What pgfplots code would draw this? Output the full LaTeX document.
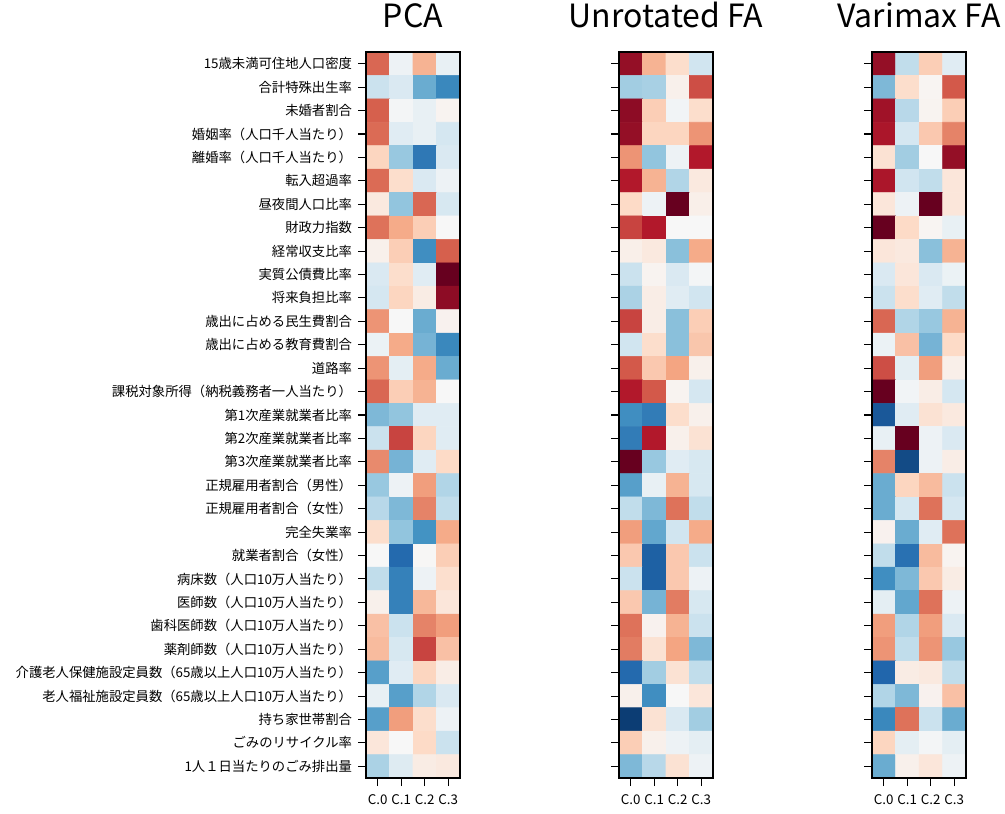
\documentclass[border=0pt]{standalone}
\usepackage{fontspec}
\setmainfont{Noto Sans CJK JP}
\usepackage{pgfplots}
\pgfplotsset{compat=1.18}
\pgfplotsset{
  colormap={rdbur}{rgb255=(5,48,97) rgb255=(33,102,172) rgb255=(67,147,195) rgb255=(146,197,222) rgb255=(209,229,240) rgb255=(247,247,247) rgb255=(253,219,199) rgb255=(244,165,130) rgb255=(214,96,77) rgb255=(178,24,43) rgb255=(103,0,31)},
  heat/.style={
    scale only axis, width=70.5pt, height=544.5pt,
    anchor=south west,
    xmin=-0.5, xmax=3.5, ymin=-0.5, ymax=30.5, y dir=reverse,
    enlargelimits=false, axis on top,
    xtick={0,1,2,3}, xticklabels={C.0,C.1,C.2,C.3},
    ytick={0,...,30},
    tick align=outside, xtick pos=left, ytick pos=left,
    major tick length=6pt,
    tick style={black, line width=0.8pt},
    axis line style={black, line width=0.9pt},
    ticklabel style={font=\fontsize{10}{12}\selectfont, text=black},
    xticklabel style={yshift=-3pt},
    yticklabel style={xshift=-1pt},
    title style={font=\fontsize{24}{28}\selectfont, anchor=base, inner sep=0pt, at={(0.5,1)}, yshift=12.75pt},
    point meta min=-1, point meta max=1, colormap name=rdbur,
  },
}
\begin{document}
\begin{tikzpicture}
\useasboundingbox (0,0) rectangle (753.75pt,609.75pt);
% PCA
\begin{axis}[heat, at={(274.5pt,26.25pt)}, title={PCA},
  yticklabels={15歳未満可住地人口密度,合計特殊出生率,未婚者割合,婚姻率（人口千人当たり）,離婚率（人口千人当たり）,転入超過率,昼夜間人口比率,財政力指数,経常収支比率,実質公債費比率,将来負担比率,歳出に占める民生費割合,歳出に占める教育費割合,道路率,課税対象所得（納税義務者一人当たり）,第1次産業就業者比率,第2次産業就業者比率,第3次産業就業者比率,正規雇用者割合（男性）,正規雇用者割合（女性）,完全失業率,就業者割合（女性）,病床数（人口10万人当たり）,医師数（人口10万人当たり）,歯科医師数（人口10万人当たり）,薬剤師数（人口10万人当たり）,介護老人保健施設定員数（65歳以上人口10万人当たり）,老人福祉施設定員数（65歳以上人口10万人当たり）,持ち家世帯割合,ごみのリサイクル率,1人１日当たりのごみ排出量}]
\addplot[matrix plot*, mesh/cols=4, point meta=explicit] coordinates {
(0,0)[0.58] (1,0)[-0.05] (2,0)[0.35] (3,0)[-0.08]
(0,1)[-0.22] (1,1)[-0.15] (2,1)[-0.5] (3,1)[-0.65]
(0,2)[0.6] (1,2)[-0.02] (2,2)[-0.08] (3,2)[0.03]
(0,3)[0.57] (1,3)[-0.12] (2,3)[-0.08] (3,3)[-0.18]
(0,4)[0.22] (1,4)[-0.38] (2,4)[-0.72] (3,4)[-0.15]
(0,5)[0.57] (1,5)[0.18] (2,5)[-0.15] (3,5)[-0.05]
(0,6)[0.1] (1,6)[-0.4] (2,6)[0.58] (3,6)[-0.17]
(0,7)[0.55] (1,7)[0.38] (2,7)[0.25] (3,7)[0.0]
(0,8)[0.05] (1,8)[0.25] (2,8)[-0.62] (3,8)[0.6]
(0,9)[-0.15] (1,9)[0.18] (2,9)[-0.12] (3,9)[1.0]
(0,10)[-0.18] (1,10)[0.22] (2,10)[0.08] (3,10)[0.9]
(0,11)[0.45] (1,11)[0.0] (2,11)[-0.5] (3,11)[0.04]
(0,12)[-0.06] (1,12)[0.38] (2,12)[-0.47] (3,12)[-0.65]
(0,13)[0.45] (1,13)[-0.1] (2,13)[0.38] (3,13)[-0.5]
(0,14)[0.58] (1,14)[0.25] (2,14)[0.35] (3,14)[0.0]
(0,15)[-0.45] (1,15)[-0.4] (2,15)[-0.12] (3,15)[-0.12]
(0,16)[-0.22] (1,16)[0.68] (2,16)[0.22] (3,16)[-0.12]
(0,17)[0.48] (1,17)[-0.47] (2,17)[-0.12] (3,17)[0.2]
(0,18)[-0.38] (1,18)[-0.05] (2,18)[0.42] (3,18)[-0.3]
(0,19)[-0.28] (1,19)[-0.45] (2,19)[0.5] (3,19)[-0.25]
(0,20)[0.18] (1,20)[-0.4] (2,20)[-0.6] (3,20)[0.38]
(0,21)[0.0] (1,21)[-0.78] (2,21)[0.01] (3,21)[0.25]
(0,22)[-0.25] (1,22)[-0.68] (2,22)[-0.05] (3,22)[0.17]
(0,23)[0.05] (1,23)[-0.68] (2,23)[0.33] (3,23)[0.12]
(0,24)[0.3] (1,24)[-0.22] (2,24)[0.5] (3,24)[0.42]
(0,25)[0.32] (1,25)[-0.17] (2,25)[0.68] (3,25)[0.3]
(0,26)[-0.55] (1,26)[-0.12] (2,26)[0.22] (3,26)[0.07]
(0,27)[-0.08] (1,27)[-0.55] (2,27)[-0.3] (3,27)[-0.15]
(0,28)[-0.55] (1,28)[0.42] (2,28)[0.18] (3,28)[-0.05]
(0,29)[0.12] (1,29)[0.0] (2,29)[0.2] (3,29)[-0.22]
(0,30)[-0.32] (1,30)[-0.13] (2,30)[0.08] (3,30)[0.1]
};
\end{axis}
% Unrotated FA
\begin{axis}[heat, at={(464.25pt,26.25pt)}, title={Unrotated FA}, yticklabels={}]
\addplot[matrix plot*, mesh/cols=4, point meta=explicit] coordinates {
(0,0)[0.88] (1,0)[0.35] (2,0)[0.18] (3,0)[-0.2]
(0,1)[-0.35] (1,1)[-0.33] (2,1)[0.05] (3,1)[0.65]
(0,2)[0.9] (1,2)[0.25] (2,2)[-0.03] (3,2)[0.18]
(0,3)[0.88] (1,3)[0.22] (2,3)[0.22] (3,3)[0.45]
(0,4)[0.45] (1,4)[-0.4] (2,4)[-0.05] (3,4)[0.8]
(0,5)[0.8] (1,5)[0.35] (2,5)[-0.3] (3,5)[0.1]
(0,6)[0.2] (1,6)[-0.05] (2,6)[1.0] (3,6)[0.06]
(0,7)[0.68] (1,7)[0.8] (2,7)[0.0] (3,7)[0.0]
(0,8)[0.06] (1,8)[0.1] (2,8)[-0.42] (3,8)[0.38]
(0,9)[-0.22] (1,9)[0.03] (2,9)[-0.15] (3,9)[-0.02]
(0,10)[-0.32] (1,10)[0.07] (2,10)[-0.12] (3,10)[-0.2]
(0,11)[0.68] (1,11)[0.07] (2,11)[-0.42] (3,11)[0.25]
(0,12)[-0.2] (1,12)[0.18] (2,12)[-0.42] (3,12)[0.28]
(0,13)[0.62] (1,13)[0.27] (2,13)[0.4] (3,13)[0.05]
(0,14)[0.8] (1,14)[0.62] (2,14)[0.03] (3,14)[-0.18]
(0,15)[-0.62] (1,15)[-0.7] (2,15)[0.18] (3,15)[0.05]
(0,16)[-0.7] (1,16)[0.8] (2,16)[0.05] (3,16)[0.15]
(0,17)[1.0] (1,17)[-0.38] (2,17)[-0.12] (3,17)[-0.17]
(0,18)[-0.55] (1,18)[-0.08] (2,18)[0.35] (3,18)[-0.17]
(0,19)[-0.25] (1,19)[-0.45] (2,19)[0.55] (3,19)[-0.25]
(0,20)[0.42] (1,20)[-0.52] (2,20)[-0.2] (3,20)[0.38]
(0,21)[0.27] (1,21)[-0.82] (2,21)[0.27] (3,21)[-0.22]
(0,22)[-0.22] (1,22)[-0.82] (2,22)[0.27] (3,22)[-0.05]
(0,23)[0.27] (1,23)[-0.47] (2,23)[0.52] (3,23)[-0.17]
(0,24)[0.55] (1,24)[0.04] (2,24)[0.35] (3,24)[-0.22]
(0,25)[0.52] (1,25)[0.15] (2,25)[0.4] (3,25)[-0.45]
(0,26)[-0.78] (1,26)[-0.35] (2,26)[0.15] (3,26)[-0.25]
(0,27)[0.05] (1,27)[-0.62] (2,27)[0.0] (3,27)[0.12]
(0,28)[-0.95] (1,28)[0.15] (2,28)[-0.15] (3,28)[-0.35]
(0,29)[0.25] (1,29)[0.05] (2,29)[-0.05] (3,29)[-0.1]
(0,30)[-0.45] (1,30)[-0.28] (2,30)[0.15] (3,30)[-0.05]
};
\end{axis}
% Varimax FA
\begin{axis}[heat, at={(654pt,26.25pt)}, title={Varimax FA}, yticklabels={}]
\addplot[matrix plot*, mesh/cols=4, point meta=explicit] coordinates {
(0,0)[0.88] (1,0)[-0.25] (2,0)[0.25] (3,0)[-0.12]
(0,1)[-0.45] (1,1)[0.18] (2,1)[0.02] (3,1)[0.62]
(0,2)[0.85] (1,2)[-0.28] (2,2)[0.03] (3,2)[0.25]
(0,3)[0.82] (1,3)[-0.18] (2,3)[0.27] (3,3)[0.5]
(0,4)[0.15] (1,4)[-0.35] (2,4)[0.0] (3,4)[0.88]
(0,5)[0.82] (1,5)[-0.2] (2,5)[-0.25] (3,5)[0.12]
(0,6)[0.12] (1,6)[-0.05] (2,6)[1.0] (3,6)[0.12]
(0,7)[1.0] (1,7)[0.2] (2,7)[0.02] (3,7)[-0.08]
(0,8)[0.12] (1,8)[0.1] (2,8)[-0.42] (3,8)[0.35]
(0,9)[-0.15] (1,9)[0.12] (2,9)[-0.15] (3,9)[-0.06]
(0,10)[-0.22] (1,10)[0.18] (2,10)[-0.12] (3,10)[-0.25]
(0,11)[0.58] (1,11)[-0.3] (2,11)[-0.38] (3,11)[0.35]
(0,12)[-0.06] (1,12)[0.3] (2,12)[-0.47] (3,12)[0.2]
(0,13)[0.65] (1,13)[-0.1] (2,13)[0.42] (3,13)[0.06]
(0,14)[1.0] (1,14)[-0.03] (2,14)[0.07] (3,14)[-0.18]
(0,15)[-0.85] (1,15)[-0.12] (2,15)[0.15] (3,15)[0.1]
(0,16)[-0.08] (1,16)[1.0] (2,16)[-0.05] (3,16)[-0.15]
(0,17)[0.5] (1,17)[-0.9] (2,17)[-0.05] (3,17)[0.07]
(0,18)[-0.5] (1,18)[0.22] (2,18)[0.32] (3,18)[-0.22]
(0,19)[-0.5] (1,19)[-0.18] (2,19)[0.55] (3,19)[-0.18]
(0,20)[0.04] (1,20)[-0.5] (2,20)[-0.12] (3,20)[0.55]
(0,21)[-0.25] (1,21)[-0.75] (2,21)[0.32] (3,21)[0.03]
(0,22)[-0.62] (1,22)[-0.45] (2,22)[0.27] (3,22)[0.08]
(0,23)[-0.1] (1,23)[-0.52] (2,23)[0.55] (3,23)[-0.05]
(0,24)[0.42] (1,24)[-0.3] (2,24)[0.42] (3,24)[-0.15]
(0,25)[0.45] (1,25)[-0.25] (2,25)[0.45] (3,25)[-0.38]
(0,26)[-0.8] (1,26)[0.08] (2,26)[0.1] (3,26)[-0.25]
(0,27)[-0.3] (1,27)[-0.45] (2,27)[0.04] (3,27)[0.3]
(0,28)[-0.65] (1,28)[0.55] (2,28)[-0.22] (3,28)[-0.5]
(0,29)[0.22] (1,29)[-0.1] (2,29)[-0.02] (3,29)[-0.1]
(0,30)[-0.5] (1,30)[0.05] (2,30)[0.12] (3,30)[-0.05]
};
\end{axis}
\end{tikzpicture}
\end{document}
